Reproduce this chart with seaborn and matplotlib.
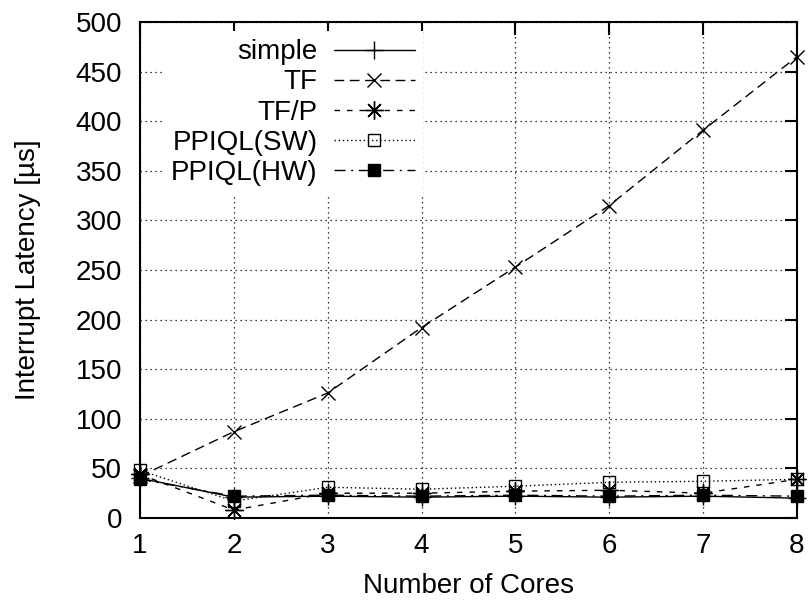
import matplotlib
matplotlib.use("Agg")
import matplotlib.pyplot as plt
from matplotlib.transforms import IdentityTransform
import seaborn as sns
import pandas as pd

cores = [1, 2, 3, 4, 5, 6, 7, 8]
simple = [40, 21, 22, 21, 22, 21, 22, 20]
tf = [42, 87, 126, 192, 253, 315, 391, 465]
tfp = [44, 8, 25, 25, 27, 28, 25, 39]
ppiql_sw = [48, 17, 31, 29, 32, 36, 37, 39]
ppiql_hw = [39, 22, 23, 22, 23, 22, 23, 22]

series_names = ["simple", "TF", "TF/P", "PPIQL(SW)", "PPIQL(HW)"]
series_vals = [simple, tf, tfp, ppiql_sw, ppiql_hw]
y_ticks = [0, 50, 100, 150, 200, 250, 300, 350, 400, 450, 500]

FS = 20

sns.set_theme(style="white")
plt.rcParams["font.family"] = ["Liberation Sans", "DejaVu Sans"]

fig = plt.figure(figsize=(8.09, 6.01), dpi=100)
ax = fig.add_axes([140/809, 1-518/601, (797-140)/809, (518-22)/601])

styles = {
    "simple": dict(ls="-", marker="+", mfc="black", ms=13, mew=1.0),
    "TF": dict(ls=(0, (7, 4)), marker="x", mfc="black", ms=10, mew=1.0),
    "TF/P": dict(ls=(0, (4, 5)), marker=(8, 2, 0), mfc="black", ms=13, mew=1.0),
    "PPIQL(SW)": dict(ls=(0, (1, 2)), marker="s", mfc="none", ms=9, mew=1.0),
    "PPIQL(HW)": dict(ls=(0, (8, 4, 1.5, 4)), marker="s", mfc="black", ms=9, mew=1.0),
}

for name, vals in zip(series_names, series_vals):
    df = pd.DataFrame({"cores": cores, "latency": vals})
    st = styles[name]
    sns.lineplot(data=df, x="cores", y="latency", ax=ax, color="black",
                 linewidth=1.0, linestyle=st["ls"], marker=st["marker"],
                 markersize=st["ms"], markerfacecolor=st["mfc"],
                 markeredgecolor="black", markeredgewidth=st["mew"],
                 label=name, clip_on=False, zorder=3)

ax.set_xlim(1, 8)
ax.set_ylim(0, 500)
ax.set_xticks(cores)
ax.set_yticks(y_ticks)
ax.tick_params(axis="both", which="major", direction="in", length=9,
               width=1.5, labelsize=FS, top=True, right=True, color="black",
               labelcolor="black")
ax.tick_params(axis="x", pad=11)
ax.tick_params(axis="y", pad=13)
ax.grid(True, color="black", linestyle=(0, (1, 3)), linewidth=0.9)
for s in ax.spines.values():
    s.set_visible(True)
    s.set_color("black")
    s.set_linewidth(1.5)

ax.set_xlabel("Number of Cores", fontsize=FS, color="black", labelpad=10)
ax.set_ylabel("Interrupt Latency [µs]", fontsize=FS, color="black", labelpad=25)

leg = ax.legend(loc="upper right", bbox_to_anchor=((423-140)/657, 0.982),
                markerfirst=False, frameon=True, fontsize=FS,
                handlelength=2.9, handletextpad=0.6, labelspacing=0.15,
                borderpad=0.3, borderaxespad=0.0, fancybox=False)
leg.get_frame().set_facecolor("white")
leg.get_frame().set_edgecolor("none")
leg.get_frame().set_alpha(1.0)
leg.set_zorder(5)

# right-align legend labels (gnuplot style)
fig.canvas.draw()
renderer = fig.canvas.get_renderer()
texts = leg.get_texts()
exts = [t.get_window_extent(renderer) for t in texts]
right = max(e.x1 for e in exts)
for t, e in zip(texts, exts):
    fig.text(right, e.y0, t.get_text(), ha="right", va="bottom",
             fontsize=FS, color="black", transform=IdentityTransform(),
             zorder=10)
    t.set_visible(False)

fig.savefig("out.png", dpi=100)
